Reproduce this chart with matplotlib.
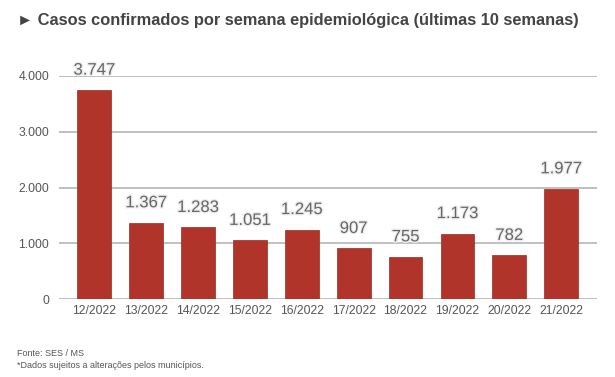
import matplotlib
matplotlib.use("Agg")
import matplotlib.pyplot as plt
import matplotlib.patheffects as pe

semanas = ["12/2022", "13/2022", "14/2022", "15/2022", "16/2022",
           "17/2022", "18/2022", "19/2022", "20/2022", "21/2022"]
casos = [3747, 1367, 1283, 1051, 1245, 907, 755, 1173, 782, 1977]
yticks = [0, 1000, 2000, 3000, 4000]
ytick_labels = ["0", "1.000", "2.000", "3.000", "4.000"]

W, H = 615, 377
fig = plt.figure(figsize=(W / 100, H / 100), dpi=100)
plt.rcParams['font.family'] = ['Liberation Sans', 'DejaVu Sans']

ax = fig.add_axes([59 / W, 1 - 299 / H, (597 - 59) / W, (299 - 76) / H])
x = list(range(len(semanas)))
ax.bar(x, casos, width=0.65, color="#B1342A", edgecolor="#9a2a20", linewidth=0.5, zorder=3)
ax.set_ylim(0, 4000)
ax.set_xlim(-0.68, 9.69)
ax.set_yticks(yticks)
ax.set_yticklabels(ytick_labels)
ax.set_xticks(x)
ax.set_xticklabels(semanas)
ax.grid(axis="y", color="#b5b5b5", linewidth=1.2, zorder=0)
for s in ax.spines.values():
    s.set_visible(False)
ax.tick_params(axis="both", length=0, labelsize=8.7, colors="#555555")
ax.tick_params(axis="y", pad=7)
ax.tick_params(axis="x", pad=4)

for xi, v in zip(x, casos):
    lbl = f"{v:,}".replace(",", ".")
    ax.annotate(lbl, (xi, v), xytext=(0, 9), textcoords="offset points",
                ha="center", va="bottom", fontsize=12, color="#666666",
                annotation_clip=False,
                path_effects=[pe.withStroke(linewidth=2, foreground="#eeeeee")])

fig.text(17 / W, 1 - 20 / H, "► Casos confirmados por semana epidemiológica (últimas 10 semanas)",
         fontsize=11.8, fontweight="bold", color="#444444", va="center", ha="left",
         family=['Liberation Sans', 'DejaVu Sans'])
fig.text(17 / W, 1 - 354 / H, "Fonte: SES / MS", fontsize=6.5, color="#555555", va="center")
fig.text(17 / W, 1 - 366 / H, "*Dados sujeitos a alterações pelos municípios.", fontsize=6.5,
         color="#555555", va="center")

fig.savefig("out.png", dpi=100)
